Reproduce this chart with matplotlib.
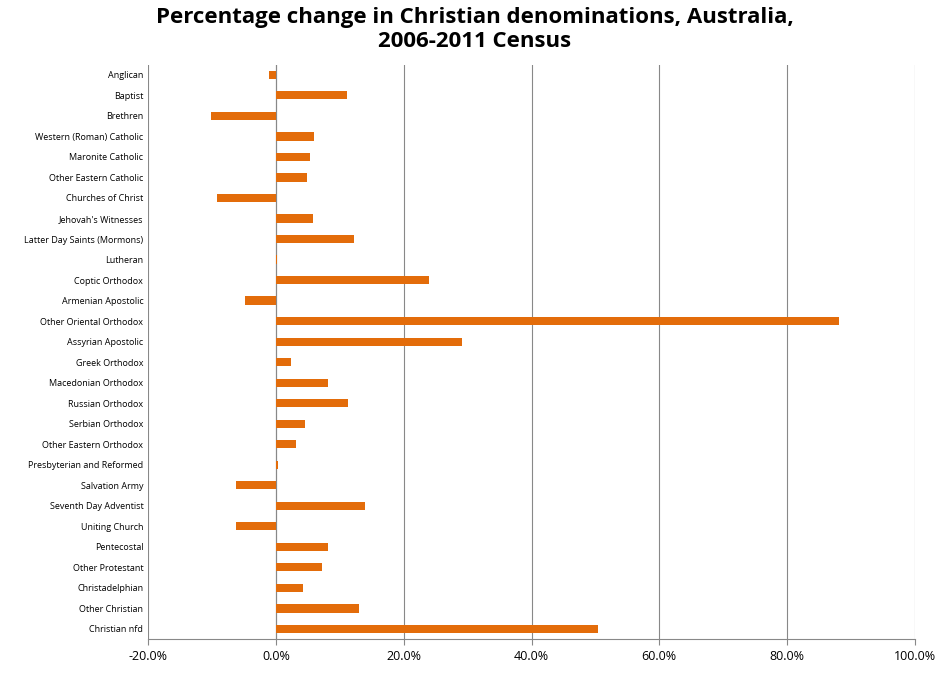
import matplotlib.pyplot as plt
from matplotlib.ticker import FuncFormatter

# data
denominations = ["Anglican", "Baptist", "Brethren", "Western (Roman) Catholic", "Maronite Catholic",
                 "Other Eastern Catholic", "Churches of Christ", "Jehovah's Witnesses",
                 "Latter Day Saints (Mormons)", "Lutheran", "Coptic Orthodox", "Armenian Apostolic",
                 "Other Oriental Orthodox", "Assyrian Apostolic", "Greek Orthodox", "Macedonian Orthodox",
                 "Russian Orthodox", "Serbian Orthodox", "Other Eastern Orthodox",
                 "Presbyterian and Reformed", "Salvation Army", "Seventh Day Adventist", "Uniting Church",
                 "Pentecostal", "Other Protestant", "Christadelphian", "Other Christian", "Christian nfd"]
pct_change = [-1.1, 11.1, -10.2, 5.9, 5.3, 4.8, -9.2, 5.8, 12.2, 0.2, 23.9, -4.9, 88.1, 29.1, 2.3,
              8.1, 11.3, 4.5, 3.1, 0.3, -6.3, 13.9, -6.3, 8.1, 7.2, 4.2, 13.0, 50.4]

plt.rcParams['font.family'] = ['Open Sans', 'DejaVu Sans']

# Plotting
plt.figure(figsize=(9.5, 6.8), dpi=100)
ypos = range(len(denominations))
plt.barh(ypos, pct_change, height=0.4, color="#E36C0A", zorder=3)
plt.yticks(ypos, denominations, fontsize=6.5)
plt.xticks([-20, 0, 20, 40, 60, 80, 100], fontsize=9)
plt.gca().xaxis.set_major_formatter(FuncFormatter(lambda v, p: f"{v:.1f}%"))
plt.xlim(-20, 100)
plt.ylim(len(denominations) - 0.5, -0.5)
plt.grid(True, axis="x", color="#888888", linewidth=0.8, zorder=0)
plt.axvline(0, color="#888888", linewidth=0.8, zorder=2)
for s in ["top", "right", "left"]:
    plt.gca().spines[s].set_visible(False)
plt.gca().spines["bottom"].set_color("#888888")
plt.tick_params(axis="y", length=0)
plt.tick_params(axis="x", length=4, color="#888888")
plt.suptitle("Percentage change in Christian denominations, Australia,\n2006-2011 Census",
             fontsize=16, fontweight="bold", x=0.5, y=0.99)
plt.subplots_adjust(left=0.156, right=0.963, top=0.905, bottom=0.06)

plt.savefig("out.png", dpi=100)
